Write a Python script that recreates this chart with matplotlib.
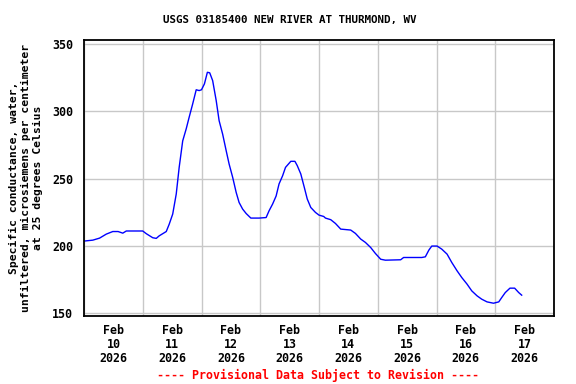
import matplotlib
matplotlib.use("Agg")
import matplotlib.pyplot as plt
import matplotlib.dates as mdates
import pandas as pd

title = "USGS 03185400 NEW RIVER AT THURMOND, WV"
ylabel = "Specific conductance, water,\nunfiltered, microsiemens per centimeter\nat 25 degrees Celsius"
footer = "---- Provisional Data Subject to Revision ----"
start_date = "2026-02-10"

# time in days since Feb 10 00:00, and values (uS/cm)
days = [0.0, 0.15, 0.265, 0.38, 0.49, 0.58, 0.66, 0.72, 1.0, 1.06, 1.17, 1.23, 1.28, 1.40,
        1.45, 1.51, 1.57, 1.62, 1.68, 1.74, 1.79, 1.85, 1.91, 1.96, 2.0, 2.05, 2.10, 2.14,
        2.19, 2.25, 2.30, 2.36, 2.42, 2.47, 2.53, 2.59, 2.64, 2.70, 2.76, 2.84, 2.98, 3.10,
        3.15, 3.21, 3.27, 3.32, 3.38, 3.43, 3.52, 3.59, 3.63, 3.69, 3.75, 3.80, 3.86, 3.94,
        4.0, 4.08, 4.11, 4.20, 4.28, 4.37, 4.54, 4.62, 4.71, 4.79, 4.88, 4.96, 5.05, 5.13,
        5.39, 5.44, 5.75, 5.81, 5.87, 5.92, 6.01, 6.09, 6.18, 6.26, 6.35, 6.43, 6.52, 6.60,
        6.69, 6.77, 6.86, 6.97, 7.06, 7.11, 7.17, 7.25, 7.33, 7.40, 7.45]
values = [203.5, 204.2, 205.7, 208.7, 210.6, 210.6, 209.4, 211.0, 211.0, 209.0, 206.0, 205.5, 207.4, 210.6,
          216.0, 223.6, 238.5, 258.3, 278.0, 287.0, 295.6, 305.5, 316.0, 315.4, 316.0, 320.4, 329.0, 328.6,
          322.8, 308.0, 293.0, 283.0, 270.7, 260.8, 251.0, 239.7, 232.2, 227.3, 224.0, 220.6, 220.6, 221.0,
          226.0, 231.0, 237.0, 246.0, 252.0, 258.3, 262.8, 262.8, 259.6, 253.4, 243.4, 234.8, 228.5, 224.8,
          222.8, 221.8, 220.6, 219.4, 216.6, 212.4, 211.7, 209.2, 205.0, 202.5, 198.7, 194.3, 190.0, 189.3,
          189.6, 191.3, 191.3, 191.8, 196.8, 199.8, 199.8, 197.5, 193.8, 187.6, 181.4, 176.4, 171.5, 166.5,
          162.8, 160.3, 158.3, 157.3, 158.3, 161.5, 165.2, 168.5, 168.5, 165.2, 163.3]
yticks = [150, 200, 250, 300, 350]

t0 = pd.Timestamp(start_date)
times = t0 + pd.to_timedelta(days, unit="D")

fig = plt.figure(figsize=(5.76, 3.84), dpi=100)
ax = fig.add_axes([84/576, 1-316/384, (554-84)/576, (316-40)/384])

ax.plot(times, values, color="#0000ff", linewidth=1.0)

ax.set_xlim(t0, t0 + pd.Timedelta(days=8))
ax.set_ylim(147.8, 353)

mono = "DejaVu Sans Mono"
ax.xaxis.set_major_locator(mdates.DayLocator())
ax.xaxis.set_major_formatter(plt.NullFormatter())
ax.xaxis.set_minor_locator(mdates.HourLocator(byhour=[12]))
ax.xaxis.set_minor_formatter(mdates.DateFormatter("%b\n%d\n%Y"))
ax.tick_params(axis="x", which="both", length=0)
ax.tick_params(axis="x", which="minor", pad=6)
ax.set_yticks(yticks)
ax.tick_params(axis="y", length=0, pad=8)
for lab in ax.get_xticklabels(minor=True) + ax.get_yticklabels():
    lab.set_fontfamily(mono)
    lab.set_fontweight("bold")
    lab.set_fontsize(8.4)
for lab in ax.get_xticklabels(minor=True):
    lab.set_linespacing(1.08)

ax.grid(True, which="major", color="#c8c8c8", linewidth=1.0)
ax.set_axisbelow(True)
for s in ax.spines.values():
    s.set_color("black")
    s.set_linewidth(1.3)

fig.text(0.503, 1-20/384, title, ha="center", va="center", fontfamily=mono,
         fontweight="bold", fontsize=7.8)
fig.text(26/576, 1-178/384, ylabel, ha="center", va="center", rotation=90,
         fontfamily=mono, fontweight="bold", fontsize=8.2, linespacing=1.2,
         multialignment="center")
fig.text(318/576, 1-375/384, footer, ha="center", va="center", fontfamily=mono,
         fontweight="bold", fontsize=8.4, color="#ff0000")

fig.savefig("out.png", dpi=100)
